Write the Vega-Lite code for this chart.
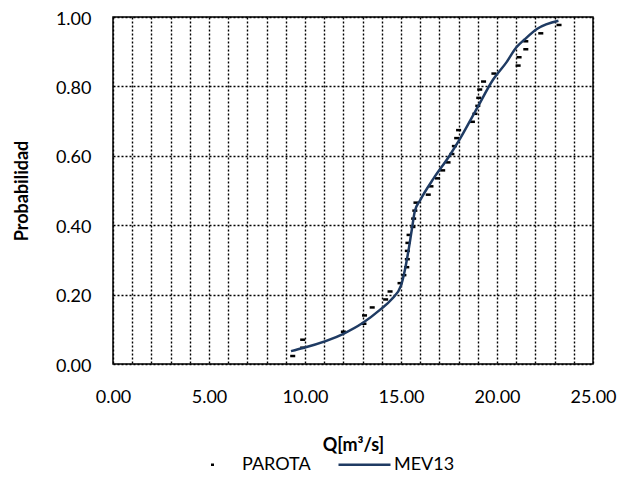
{
  "$schema": "https://vega.github.io/schema/vega-lite/v6.json",
  "width": 480,
  "height": 347,
  "autosize": "none",
  "padding": {"left": 113, "top": 17, "right": 25, "bottom": 121},
  "background": "white",
  "config": {
    "font": "Lato",
    "view": {"stroke": "#000000", "strokeWidth": 1.5},
    "axis": {
      "labelFont": "Lato", "labelFontSize": 18, "labelColor": "#000000",
      "titleFont": "Lato", "titleFontSize": 18, "titleFontWeight": "bold", "titleColor": "#000000",
      "ticks": false, "domain": false, "grid": true,
      "gridColor": "#000000", "gridDash": [2, 2], "gridWidth": 1.4, "gridOpacity": 1
    }
  },
  "datasets": {
    "parota": [
      {"series": "PAROTA", "Q": 9.36, "P": 0.023},
      {"series": "PAROTA", "Q": 9.88, "P": 0.047},
      {"series": "PAROTA", "Q": 9.88, "P": 0.070},
      {"series": "PAROTA", "Q": 12.0, "P": 0.093},
      {"series": "PAROTA", "Q": 13.07, "P": 0.116},
      {"series": "PAROTA", "Q": 13.1, "P": 0.140},
      {"series": "PAROTA", "Q": 13.5, "P": 0.163},
      {"series": "PAROTA", "Q": 14.2, "P": 0.186},
      {"series": "PAROTA", "Q": 14.43, "P": 0.209},
      {"series": "PAROTA", "Q": 14.95, "P": 0.233},
      {"series": "PAROTA", "Q": 15.15, "P": 0.256},
      {"series": "PAROTA", "Q": 15.3, "P": 0.279},
      {"series": "PAROTA", "Q": 15.33, "P": 0.302},
      {"series": "PAROTA", "Q": 15.33, "P": 0.326},
      {"series": "PAROTA", "Q": 15.36, "P": 0.349},
      {"series": "PAROTA", "Q": 15.42, "P": 0.372},
      {"series": "PAROTA", "Q": 15.62, "P": 0.395},
      {"series": "PAROTA", "Q": 15.66, "P": 0.419},
      {"series": "PAROTA", "Q": 15.72, "P": 0.442},
      {"series": "PAROTA", "Q": 15.78, "P": 0.465},
      {"series": "PAROTA", "Q": 16.42, "P": 0.488},
      {"series": "PAROTA", "Q": 16.56, "P": 0.512},
      {"series": "PAROTA", "Q": 16.9, "P": 0.535},
      {"series": "PAROTA", "Q": 17.17, "P": 0.558},
      {"series": "PAROTA", "Q": 17.45, "P": 0.581},
      {"series": "PAROTA", "Q": 17.65, "P": 0.605},
      {"series": "PAROTA", "Q": 17.78, "P": 0.628},
      {"series": "PAROTA", "Q": 17.9, "P": 0.651},
      {"series": "PAROTA", "Q": 18.0, "P": 0.674},
      {"series": "PAROTA", "Q": 18.72, "P": 0.698},
      {"series": "PAROTA", "Q": 18.85, "P": 0.721},
      {"series": "PAROTA", "Q": 19.0, "P": 0.744},
      {"series": "PAROTA", "Q": 19.05, "P": 0.767},
      {"series": "PAROTA", "Q": 19.1, "P": 0.791},
      {"series": "PAROTA", "Q": 19.3, "P": 0.814},
      {"series": "PAROTA", "Q": 19.84, "P": 0.837},
      {"series": "PAROTA", "Q": 21.1, "P": 0.860},
      {"series": "PAROTA", "Q": 21.15, "P": 0.884},
      {"series": "PAROTA", "Q": 21.5, "P": 0.907},
      {"series": "PAROTA", "Q": 21.5, "P": 0.930},
      {"series": "PAROTA", "Q": 22.28, "P": 0.953},
      {"series": "PAROTA", "Q": 23.23, "P": 0.977}
    ],
    "mev": [
      {"series": "MEV13", "Q": 9.27, "P": 0.037},
      {"series": "MEV13", "Q": 9.9, "P": 0.046},
      {"series": "MEV13", "Q": 12.0, "P": 0.087},
      {"series": "MEV13", "Q": 13.0, "P": 0.118},
      {"series": "MEV13", "Q": 13.9, "P": 0.156},
      {"series": "MEV13", "Q": 14.5, "P": 0.186},
      {"series": "MEV13", "Q": 15.0, "P": 0.226},
      {"series": "MEV13", "Q": 15.2, "P": 0.27},
      {"series": "MEV13", "Q": 15.38, "P": 0.324},
      {"series": "MEV13", "Q": 15.56, "P": 0.386},
      {"series": "MEV13", "Q": 15.72, "P": 0.44},
      {"series": "MEV13", "Q": 16.0, "P": 0.472},
      {"series": "MEV13", "Q": 16.7, "P": 0.535},
      {"series": "MEV13", "Q": 17.5, "P": 0.598},
      {"series": "MEV13", "Q": 18.0, "P": 0.642},
      {"series": "MEV13", "Q": 18.94, "P": 0.735},
      {"series": "MEV13", "Q": 19.8, "P": 0.82},
      {"series": "MEV13", "Q": 20.5, "P": 0.87},
      {"series": "MEV13", "Q": 21.0, "P": 0.912},
      {"series": "MEV13", "Q": 21.45, "P": 0.936},
      {"series": "MEV13", "Q": 22.1, "P": 0.966},
      {"series": "MEV13", "Q": 23.2, "P": 0.989}
    ]
  },
  "layer": [
    {
      "data": {"name": "parota"},
      "mark": {"type": "point", "filled": false, "strokeWidth": 2.5, "opacity": 1, "size": 7560},
      "encoding": {
        "x": {
          "field": "Q", "type": "quantitative",
          "scale": {"domain": [0, 25], "nice": false, "zero": false},
          "axis": {
            "title": "Q[m³/s]",
            "values": [0,1,2,3,4,5,6,7,8,9,10,11,12,13,14,15,16,17,18,19,20,21,22,23,24,25],
            "tickCount": 30,
            "format": ".2f",
            "labelExpr": "datum.value % 5 == 0 ? datum.label : ''",
            "labelOverlap": false, "labelFlush": false,
            "labelPadding": 24, "titlePadding": 30
          }
        },
        "y": {
          "field": "P", "type": "quantitative",
          "scale": {"domain": [0, 1], "nice": false},
          "axis": {
            "title": "Probabilidad",
            "values": [0, 0.2, 0.4, 0.6, 0.8, 1],
            "tickCount": 10,
            "format": ".2f",
            "labelOffset": 2,
            "labelPadding": 22, "titlePadding": 24
          }
        },
        "color": {
          "field": "series", "type": "nominal",
          "scale": {"domain": ["PAROTA", "MEV13"], "range": ["#000000", "#1F3B63"]},
          "legend": {
            "title": null, "orient": "none", "direction": "horizontal",
            "legendX": 72, "legendY": 420,
            "labelFont": "Lato", "labelFontSize": 18, "labelColor": "#000000",
            "symbolSize": 2704,
            "symbolStrokeWidth": 2.5, "labelOffset": 2, "columnPadding": 22
          }
        },
        "shape": {
          "field": "series", "type": "nominal",
          "scale": {"domain": ["PAROTA", "MEV13"], "range": ["M-0.058,0L0.058,0", "stroke"]},
          "legend": {
            "title": null, "orient": "none", "direction": "horizontal",
            "legendX": 72, "legendY": 420,
            "labelFont": "Lato", "labelFontSize": 18, "labelColor": "#000000",
            "symbolSize": 2704,
            "symbolStrokeWidth": 2.5, "labelOffset": 2, "columnPadding": 22
          }
        }
      }
    },
    {
      "data": {"name": "mev"},
      "mark": {"type": "line", "strokeWidth": 2.5, "interpolate": "monotone"},
      "encoding": {
        "x": {"field": "Q", "type": "quantitative"},
        "y": {"field": "P", "type": "quantitative"},
        "color": {"field": "series", "type": "nominal"}
      }
    }
  ]
}
